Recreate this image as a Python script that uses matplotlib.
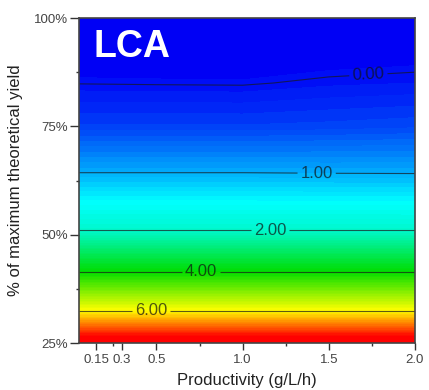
import matplotlib
matplotlib.use('Agg')
import matplotlib.pyplot as plt
from matplotlib.colors import LinearSegmentedColormap
import numpy as np

plt.rcParams['font.family'] = ['Liberation Sans', 'DejaVu Sans']

# productivity (g/L/h) columns and yield (%) rows of the LCA surface
productivity = [0.05, 0.5, 1.0, 1.5, 2.0]
yield_pct = [25, 32.5, 41.5, 51, 64.3, 75, 85, 100]
lca = [
    [8.0, 8.0, 8.0, 8.0, 8.0],
    [6.0, 6.0, 6.0, 6.0, 6.0],
    [4.0, 4.0, 4.0, 4.0, 4.0],
    [2.0, 2.0, 2.0, 2.0, 2.0],
    [1.0, 1.0, 1.0, 0.99, 0.985],
    [0.3, 0.3, 0.3, 0.32, 0.35],
    [-0.006, -0.012, -0.016, 0.029, 0.05],
    [-0.3, -0.3, -0.3, -0.28, -0.25],
]
line_levels = [0, 1, 2, 4, 6]
label_spots = [(1.73, 87.0), (1.43, 64.3), (1.16, 51.0), (0.76, 41.5), (0.47, 32.5)]

xticks = [0.15, 0.3, 0.5, 1.0, 1.5, 2.0]
xticklabels = ['0.15', '0.3', '0.5', '1.0', '1.5', '2.0']
yticks = [25, 50, 75, 100]
yticklabels = ['25%', '50%', '75%', '100%']

# colour ramp blue -> cyan -> green -> yellow -> red
lo, hi = -0.1, 7.6
nodes = [(-0.1, '#0000f5'), (1.5, '#00ffff'), (4.0, '#00dd00'), (6.0, '#ffff00'), (7.6, '#ff0000')]
cmap = LinearSegmentedColormap.from_list('lca', [((v - lo) / (hi - lo), c) for v, c in nodes])

X, Y = np.meshgrid(productivity, yield_pct)
Z = np.array(lca)

fig = plt.figure(figsize=(4.29, 3.9), dpi=100)
ax = fig.add_axes([0.184, 0.1205, 0.783, 0.8333])

ax.contourf(X, Y, Z, levels=np.arange(-0.35, 8.06, 0.08), cmap=cmap,
            vmin=lo, vmax=hi, extend='both')
cs = ax.contour(X, Y, Z, levels=line_levels, colors='#1a1a1a', linewidths=0.8, alpha=0.7)
ax.clabel(cs, fmt='%.2f', fontsize=12, colors='#111111', inline=True,
          inline_spacing=3, manual=label_spots)

ax.text(0.042, 0.88, 'LCA', transform=ax.transAxes, color='white',
        fontsize=27, fontweight='bold', va='baseline', ha='left')

ax.set_xlim(0.05, 2.0)
ax.set_ylim(25, 100)
ax.set_xticks(xticks)
ax.set_xticklabels(xticklabels)
ax.set_xticks([0.25, 0.75, 1.25, 1.75], minor=True)
ax.set_yticks(yticks)
ax.set_yticklabels(yticklabels)
ax.set_yticks([37.5, 62.5, 87.5], minor=True)

ax.tick_params(axis='x', which='major', length=5, width=1, color='#333333',
               labelsize=9.5, labelcolor='#444444', pad=3)
ax.tick_params(axis='y', which='major', length=6.5, width=1, color='#333333',
               labelsize=9.5, labelcolor='#444444', pad=1.5)
ax.tick_params(which='minor', length=2.5, width=1, color='#333333')

for s in ax.spines.values():
    s.set_color('#444444')
    s.set_linewidth(1.2)

ax.set_xlabel('Productivity (g/L/h)', fontsize=12, color='#222222', labelpad=5)
ax.set_ylabel('% of maximum theoretical yield', fontsize=12, color='#222222', labelpad=8)

fig.savefig('out.png', dpi=100)
